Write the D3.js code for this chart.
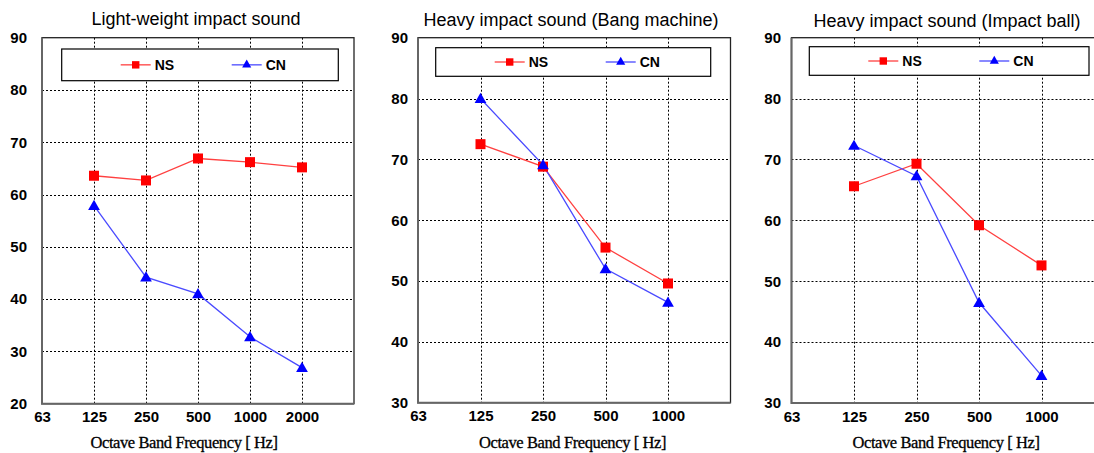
<html>
<head>
    <title>impact sound</title>
    <script src="https://cdn.jsdelivr.net/npm/d3@7"></script>
</head>
<body style="margin: 0; background: #fff;">
    <svg></svg>
</body>
<script>
const width = 1094;
const height = 453;

// octave band labels per panel (last slot of each axis is left empty)
const bands1 = ["63", "125", "250", "500", "1000", "2000", "4000"];
const bands2 = ["63", "125", "250", "500", "1000", "2000"];
const bands3 = ["63", "125", "250", "500", "1000", "2000"];
const ticks1 = ["63", "125", "250", "500", "1000", "2000"];
const ticks2 = ["63", "125", "250", "500", "1000"];
const ticks3 = ["63", "125", "250", "500", "1000"];

// measured levels (dB)
const freq1 = ["125", "250", "500", "1000", "2000"];
const ns1 = [63.6, 62.7, 66.9, 66.2, 65.2];
const cn1 = [57.9, 44.2, 41.0, 32.8, 26.9];

const freq2 = ["125", "250", "500", "1000"];
const ns2 = [72.5, 68.8, 55.5, 49.6];
const cn2 = [80.0, 69.1, 52.0, 46.5];

const freq3 = ["125", "250", "500", "1000"];
const ns3 = [65.6, 69.3, 59.2, 52.6];
const cn3 = [72.3, 67.3, 46.5, 34.5];

const yTicks1 = [20, 30, 40, 50, 60, 70, 80, 90];
const yTicks2 = [30, 40, 50, 60, 70, 80, 90];
const yTicks3 = [30, 40, 50, 60, 70, 80, 90];

const titles = ["Light-weight impact sound", "Heavy impact sound (Bang machine)", "Heavy impact sound (Impact ball)"];
const seriesNames = ["NS", "CN"];
const xTitle = "Octave Band Frequency [ Hz]";

const svg = d3.select("svg")
    .attr("width", width)
    .attr("height", height)
    .style("font-family", "'Liberation Sans', Arial, sans-serif");

const panels = [
    {title: titles[0], bands: bands1, ticks: ticks1, freq: freq1, ns: ns1, cn: cn1, yt: yTicks1,
     x0: 42, x1: 354, y0: 37.7, y1: 403.7, gap: 15, tx: 196, ty: 25, ax: 184,
     legend: [61.7, 49, 338.3, 80.7]},
    {title: titles[1], bands: bands2, ticks: ticks2, freq: freq2, ns: ns2, cn: cn2, yt: yTicks2,
     x0: 418, x1: 730.5, y0: 37.7, y1: 402.7, gap: 10, tx: 571, ty: 25.5, ax: 572.5,
     legend: [435.7, 47.7, 710.7, 76.3]},
    {title: titles[2], bands: bands3, ticks: ticks3, freq: freq3, ns: ns3, cn: cn3, yt: yTicks3,
     x0: 791.5, x1: 1104, y0: 37.7, y1: 403, gap: 10.5, tx: 947, ty: 26.5, ax: 946,
     legend: [809.3, 46.7, 1089, 75.3]},
];

const sq = d3.symbol().type(d3.symbolSquare);
const tri = d3.symbol().type(d3.symbolTriangle);

panels.forEach(drawPanel);

function drawPanel(p) {
    const x = d3.scalePoint().domain(p.bands).range([p.x0, p.x1]);
    const y = d3.scaleLinear().domain([d3.min(p.yt), d3.max(p.yt)]).range([p.y1, p.y0]);
    const g = svg.append("g");

    // grid
    g.append("g")
        .selectAll("line")
        .data(p.yt.slice(1, -1))
        .join("line")
            .attr("x1", p.x0).attr("x2", p.x1)
            .attr("y1", d => Math.round(y(d)) + .5)
            .attr("y2", d => Math.round(y(d)) + .5)
            .attr("stroke", "#000").attr("stroke-width", 1)
            .attr("stroke-dasharray", "2,2");
    g.append("g")
        .selectAll("line")
        .data(p.ticks.slice(1))
        .join("line")
            .attr("x1", d => Math.round(x(d)) + .5)
            .attr("x2", d => Math.round(x(d)) + .5)
            .attr("y1", p.y0).attr("y2", p.y1)
            .attr("stroke", "#000").attr("stroke-width", 1)
            .attr("stroke-dasharray", "2,2");

    // frame
    g.append("rect")
        .attr("x", p.x0).attr("y", p.y0)
        .attr("width", p.x1 - p.x0).attr("height", p.y1 - p.y0)
        .attr("fill", "none").attr("stroke", "#222").attr("stroke-width", 1.3);
    g.append("path")
        .attr("d", `M${p.x0},${p.y0}V${p.y1}H${p.x1}`)
        .attr("fill", "none").attr("stroke", "#666").attr("stroke-width", 2);

    // axes
    const ax = g.append("g")
        .attr("transform", `translate(0,${p.y1})`)
        .call(d3.axisBottom(x).tickValues(p.ticks).tickSize(0).tickPadding(8));
    ax.select(".domain").remove();
    ax.selectAll("text")
        .attr("font-size", 15).attr("font-weight", "bold").attr("fill", "#000")
        .attr("font-family", "'Liberation Sans', Arial, sans-serif");

    const ay = g.append("g")
        .attr("transform", `translate(${p.x0},0)`)
        .call(d3.axisLeft(y).tickValues(p.yt).tickSize(0).tickPadding(p.gap));
    ay.select(".domain").remove();
    ay.selectAll("text")
        .attr("font-size", 15).attr("font-weight", "bold").attr("fill", "#000")
        .attr("font-family", "'Liberation Sans', Arial, sans-serif");

    // titles
    g.append("text")
        .attr("x", p.tx)
        .attr("y", p.ty)
        .attr("text-anchor", "middle")
        .attr("font-size", 18)
        .attr("fill", "#000")
        .text(p.title);
    g.append("text")
        .attr("x", p.ax)
        .attr("y", 447.5)
        .attr("text-anchor", "middle")
        .attr("font-family", "'Liberation Serif', 'DejaVu Serif', serif")
        .attr("font-size", 16.5)
        .attr("letter-spacing", -0.4)
        .attr("stroke", "#000").attr("stroke-width", 0.3)
        .attr("fill", "#000")
        .text(xTitle);

    // series
    const line = d3.line().x((d, i) => x(p.freq[i])).y(d => y(d));
    g.append("path").datum(p.ns)
        .attr("d", line).attr("fill", "none")
        .attr("stroke", "#ff4040").attr("stroke-width", 1.3);
    g.append("path").datum(p.cn)
        .attr("d", line).attr("fill", "none")
        .attr("stroke", "#4a4aff").attr("stroke-width", 1.3);

    g.append("g").selectAll("path")
        .data(p.ns)
        .join("path")
            .attr("transform", (d, i) => `translate(${x(p.freq[i])},${y(d)})`)
            .attr("d", sq.size(100))
            .attr("fill", "#ff0000");
    g.append("g").selectAll("path")
        .data(p.cn)
        .join("path")
            .attr("transform", (d, i) => `translate(${x(p.freq[i])},${y(d) + 1})`)
            .attr("d", tri.size(60))
            .attr("fill", "#0000ff");

    // legend
    const [lx0, ly0, lx1, ly1] = p.legend;
    g.append("rect")
        .attr("x", lx0).attr("y", ly0)
        .attr("width", lx1 - lx0).attr("height", ly1 - ly0)
        .attr("fill", "#fff").attr("stroke", "#000").attr("stroke-width", 1.2);
    const ly = (ly0 + ly1) / 2;
    const items = [
        {name: seriesNames[0], off: 59, color: "#ff4040", fill: "#ff0000", sym: sq.size(55)},
        {name: seriesNames[1], off: 170, color: "#4a4aff", fill: "#0000ff", sym: tri.size(36)},
    ];
    items.forEach(it => {
        const lx = lx0 + it.off;
        g.append("line")
            .attr("x1", lx).attr("x2", lx + 30)
            .attr("y1", ly).attr("y2", ly)
            .attr("stroke", it.color).attr("stroke-width", 1.3);
        g.append("path")
            .attr("transform", `translate(${lx + 15},${ly})`)
            .attr("d", it.sym)
            .attr("fill", it.fill);
        g.append("text")
            .attr("x", lx + 34).attr("y", ly + 5)
            .attr("font-size", 14).attr("font-weight", "bold")
            .attr("fill", "#000")
            .text(it.name);
    });
}
</script>
</html>
